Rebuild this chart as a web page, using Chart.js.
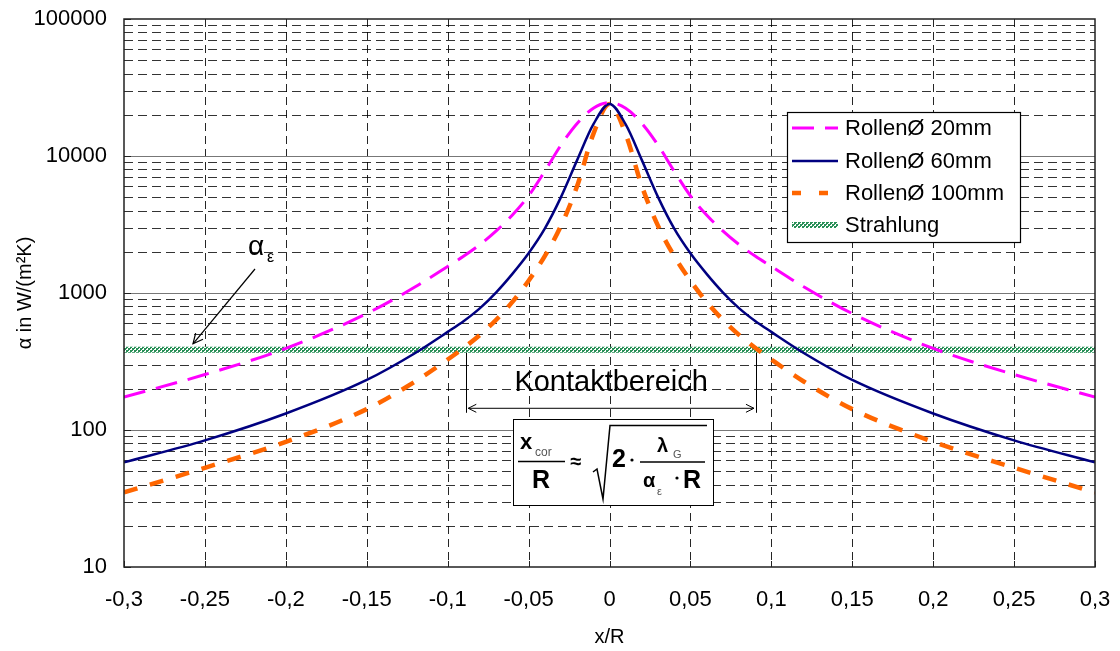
<!DOCTYPE html>
<html>
<head>
<meta charset="utf-8">
<script src="https://cdn.jsdelivr.net/npm/chart.js@4.4.1/dist/chart.umd.min.js"></script>
<style>
html,body{margin:0;padding:0;background:#fff;}
#wrap{width:1120px;height:651px;position:relative;}
</style>
</head>
<body>
<div id="wrap"><canvas id="c" width="1120" height="651"></canvas></div>
<script>
// ---- data ----
const xValues   = [-0.3,-0.25,-0.2,-0.15,-0.12,-0.1,-0.09,-0.08,-0.07,-0.06,-0.05,-0.04,-0.03,-0.02,-0.01,0,0.01,0.02,0.03,0.04,0.05,0.06,0.07,0.08,0.09,0.1,0.12,0.15,0.2,0.25,0.3];
const roll20    = [174,254,394,708,1110,1563,1860,2260,2840,3710,5120,7740,12000,17300,22300,24500,22300,17300,12000,7740,5120,3710,2840,2260,1860,1563,1110,708,394,254,174];
const roll60    = [58,84,132,232,365,520,625,776,1012,1380,1950,2950,5010,9330,17000,24000,17000,9330,5010,2950,1950,1380,1012,776,625,520,365,232,132,84,58];
const roll100   = [35,53,82,142,226,327,398,495,638,861,1230,1860,3090,6030,14450,24000,14450,6030,3090,1860,1230,861,638,495,398,327,226,142,82,53,35];
const strahlungX = [-0.3, 0.3];
const strahlungY = [385, 385];
const xTicks = [-0.3,-0.25,-0.2,-0.15,-0.1,-0.05,0,0.05,0.1,0.15,0.2,0.25,0.3];
const yTicks = [10,100,1000,10000,100000];
const seriesLabels = ['RollenØ 20mm','RollenØ 60mm','RollenØ 100mm','Strahlung'];
const contactX = [-0.0885, 0.0905];

const FONT = 'Liberation Sans, Arial, sans-serif';

// checkered pattern for the radiation line
function makePattern(){
  const c = document.createElement('canvas'); c.width = 4; c.height = 4;
  const g = c.getContext('2d');
  g.fillStyle = '#ffffff'; g.fillRect(0,0,4,4);
  g.fillStyle = '#2a9058';
  g.fillRect(0,0,2,2); g.fillRect(2,2,2,2);
  g.fillRect(2,0,1,1); g.fillRect(0,2,1,1);
  return document.getElementById('c').getContext('2d').createPattern(c,'repeat');
}
const greenPattern = makePattern();

const toXY = (xs, ys) => xs.map((x,i)=>({x:x, y:ys[i]}));

const gridPlugin = {
  id:'gridPlugin',
  beforeDatasetsDraw(chart){
    const {ctx, chartArea:{left,right,top,bottom}, scales:{x,y}} = chart;
    ctx.save();
    ctx.lineWidth = 1;
    ctx.strokeStyle = 'rgba(0,0,0,0.8)';
    ctx.setLineDash([9,5]);
    for (let d=0; d<yTicks.length-1; d++){
      for (let m=2; m<=9; m++){
        const py = Math.round(y.getPixelForValue(yTicks[d]*m))+0.5;
        ctx.beginPath(); ctx.moveTo(left,py); ctx.lineTo(right,py); ctx.stroke();
      }
    }
    ctx.setLineDash([8,5]);
    ctx.strokeStyle = 'rgba(0,0,0,0.85)';
    xTicks.slice(1,-1).forEach(v=>{
      const px = Math.round(x.getPixelForValue(v))+0.5;
      ctx.beginPath(); ctx.moveTo(px,top); ctx.lineTo(px,bottom); ctx.stroke();
    });
    ctx.setLineDash([]);
    ctx.strokeStyle = '#777';
    yTicks.slice(1,-1).forEach(v=>{
      const py = Math.round(y.getPixelForValue(v))+0.5;
      ctx.beginPath(); ctx.moveTo(left,py); ctx.lineTo(right,py); ctx.stroke();
    });
    ctx.restore();
  },
  afterDatasetsDraw(chart){
    const {ctx, chartArea:{left,right,top,bottom}, scales:{x,y}} = chart;
    ctx.save();
    ctx.strokeStyle = '#222'; ctx.lineWidth = 1.5; ctx.setLineDash([]);
    ctx.strokeRect(left, top, right-left, bottom-top);
    ctx.lineWidth = 1;
    yTicks.forEach(v=>{
      const py = Math.round(y.getPixelForValue(v))+0.5;
      ctx.beginPath(); ctx.moveTo(left,py); ctx.lineTo(left+7,py); ctx.stroke();
    });
    xTicks.forEach(v=>{
      const px = Math.round(x.getPixelForValue(v))+0.5;
      ctx.beginPath(); ctx.moveTo(px,bottom); ctx.lineTo(px,bottom-6); ctx.stroke();
    });

    // alpha_eps label with arrow
    ctx.fillStyle = '#000';
    ctx.textBaseline = 'alphabetic'; ctx.textAlign = 'left';
    ctx.font = '28px ' + FONT;
    ctx.fillText('α', 248, 255);
    ctx.font = '16px ' + FONT;
    ctx.fillText('ε', 267, 262);
    const lineY = y.getPixelForValue(strahlungY[0]);
    drawArrow(ctx, 255, 269, 193, lineY-6);

    // Kontaktbereich
    const cx0 = x.getPixelForValue(contactX[0]);
    const cx1 = x.getPixelForValue(contactX[1]);
    const arrowY = lineY + 58;
    ctx.strokeStyle = '#000'; ctx.lineWidth = 1;
    ctx.beginPath();
    ctx.moveTo(Math.round(cx0)+0.5, lineY+3); ctx.lineTo(Math.round(cx0)+0.5, arrowY+5);
    ctx.moveTo(Math.round(cx1)+0.5, lineY+3); ctx.lineTo(Math.round(cx1)+0.5, arrowY+5);
    ctx.stroke();
    ctx.beginPath();
    ctx.moveTo(cx0+2, arrowY+0.5); ctx.lineTo(cx1-2, arrowY+0.5); ctx.stroke();
    ctx.beginPath();
    ctx.moveTo(cx0+10, arrowY-3.5); ctx.lineTo(cx0+2, arrowY+0.5); ctx.lineTo(cx0+10, arrowY+4.5);
    ctx.moveTo(cx1-10, arrowY-3.5); ctx.lineTo(cx1-2, arrowY+0.5); ctx.lineTo(cx1-10, arrowY+4.5);
    ctx.stroke();
    ctx.font = '29px ' + FONT;
    ctx.textAlign = 'center';
    ctx.fillText('Kontaktbereich', (cx0+cx1)/2, lineY+41);

    // formula box
    const bx = 513, by = 419;
    ctx.fillStyle = '#fff';
    ctx.fillRect(bx, by, 200, 86);
    ctx.strokeStyle = '#000'; ctx.lineWidth = 1;
    ctx.strokeRect(bx+0.5, by+0.5, 200, 86);
    ctx.fillStyle = '#000';
    ctx.textAlign = 'left';
    ctx.font = 'bold 22px ' + FONT; ctx.fillText('x', 520, 449);
    ctx.fillStyle = '#555'; ctx.font = '12px ' + FONT; ctx.fillText('cor', 535, 456);
    ctx.fillStyle = '#000';
    ctx.lineWidth = 1.5;
    ctx.beginPath(); ctx.moveTo(518, 461.5); ctx.lineTo(565, 461.5); ctx.stroke();
    ctx.font = 'bold 25px ' + FONT; ctx.textAlign = 'center'; ctx.fillText('R', 541, 488);
    ctx.font = 'bold 20px ' + FONT; ctx.fillText('≈', 576, 468);
    ctx.beginPath();
    ctx.moveTo(593, 472); ctx.lineTo(597, 469); ctx.lineTo(603, 499); ctx.lineTo(610, 425.5); ctx.lineTo(707, 425.5);
    ctx.stroke();
    ctx.textAlign = 'left';
    ctx.font = 'bold 25px ' + FONT; ctx.fillText('2', 612, 467);
    ctx.beginPath(); ctx.arc(632, 460, 1.6, 0, Math.PI*2); ctx.fill();
    ctx.beginPath(); ctx.moveTo(640, 462); ctx.lineTo(705, 462); ctx.stroke();
    ctx.font = 'bold 20px ' + FONT; ctx.fillText('λ', 657, 452);
    ctx.fillStyle = '#555'; ctx.font = '11px ' + FONT; ctx.fillText('G', 673, 458);
    ctx.fillStyle = '#000';
    ctx.font = 'bold 20px ' + FONT; ctx.fillText('α', 643, 487);
    ctx.fillStyle = '#555'; ctx.font = '11px ' + FONT; ctx.fillText('ε', 657, 495);
    ctx.fillStyle = '#000';
    ctx.beginPath(); ctx.arc(677, 478, 1.6, 0, Math.PI*2); ctx.fill();
    ctx.font = 'bold 25px ' + FONT; ctx.fillText('R', 683, 488);

    // legend
    const lx = 787, ly = 112, lw = 233, lh = 130;
    ctx.fillStyle = '#fff'; ctx.fillRect(lx, ly, lw, lh);
    ctx.strokeStyle = '#000'; ctx.lineWidth = 1.2; ctx.setLineDash([]);
    ctx.strokeRect(lx+0.5, ly+0.5, lw, lh);
    const rowsY = [128, 161, 193, 225];
    chart.data.datasets.forEach((ds,i)=>{
      const yy = rowsY[i];
      ctx.save();
      ctx.strokeStyle = ds.borderColor;
      ctx.lineWidth = ds.borderWidth;
      ctx.setLineDash(ds.legendDash || []);
      ctx.beginPath(); ctx.moveTo(792, yy); ctx.lineTo(838, yy); ctx.stroke();
      ctx.restore();
      ctx.fillStyle = '#000';
      ctx.font = '22px ' + FONT;
      ctx.textAlign = 'left'; ctx.textBaseline = 'middle';
      ctx.fillText(ds.label, 845, yy+1);
    });
    ctx.restore();
  }
};

function drawArrow(ctx, x1, y1, x2, y2){
  ctx.save();
  ctx.strokeStyle = '#000'; ctx.lineWidth = 1.2; ctx.setLineDash([]);
  ctx.beginPath(); ctx.moveTo(x1,y1); ctx.lineTo(x2,y2); ctx.stroke();
  const ang = Math.atan2(y2-y1, x2-x1);
  const L = 11, a = 0.45;
  ctx.beginPath();
  ctx.moveTo(x2 - L*Math.cos(ang-a), y2 - L*Math.sin(ang-a));
  ctx.lineTo(x2, y2);
  ctx.lineTo(x2 - L*Math.cos(ang+a), y2 - L*Math.sin(ang+a));
  ctx.stroke();
  ctx.restore();
}

const fmt = v => String(v).replace('.', ',');

new Chart(document.getElementById('c'), {
  type: 'line',
  data: {
    datasets: [
      {label: seriesLabels[0], data: toXY(xValues, roll20), borderColor:'#ff00ff', borderWidth:3, borderDash:[22,11], legendDash:[22,11], pointRadius:0, cubicInterpolationMode:'monotone', fill:false},
      {label: seriesLabels[1], data: toXY(xValues, roll60), borderColor:'#000080', borderWidth:2.5, pointRadius:0, cubicInterpolationMode:'monotone', fill:false},
      {label: seriesLabels[2], data: toXY(xValues, roll100), borderColor:'#ff6600', borderWidth:4.5, borderDash:[14,13], legendDash:[9,18], pointRadius:0, cubicInterpolationMode:'monotone', fill:false},
      {label: seriesLabels[3], data: toXY(strahlungX, strahlungY), borderColor: greenPattern, borderWidth:6, pointRadius:0, fill:false}
    ]
  },
  options: {
    responsive:false, animation:false,
    layout:{padding:{left:0, right:25, top:19, bottom:0}},
    plugins:{legend:{display:false}, tooltip:{enabled:false}},
    scales:{
      x:{
        type:'linear', min:-0.3, max:0.3,
        afterBuildTicks: s => { s.ticks = xTicks.map(v=>({value:v})); },
        afterFit: s => { s.height = 84; },
        ticks:{callback: v => fmt(v), font:{family:FONT, size:22}, color:'#000', padding:0, autoSkip:false, maxRotation:0},
        grid:{display:false, drawTicks:true, tickLength:20},
        border:{display:false},
        title:{display:true, text:'x/R', font:{family:FONT, size:20}, color:'#000', padding:{top:0,bottom:2}}
      },
      y:{
        type:'logarithmic', min:10, max:100000,
        afterBuildTicks: s => { s.ticks = yTicks.map(v=>({value:v})); },
        afterFit: s => { s.width = 124; },
        ticks:{callback: v => String(v), font:{family:FONT, size:22}, color:'#000', padding:0, autoSkip:false},
        grid:{display:false, drawTicks:true, tickLength:17},
        border:{display:false},
        title:{display:true, text:'α in W/(m²K)', font:{family:FONT, size:20}, color:'#000', padding:{top:13,bottom:0}}
      }
    }
  },
  plugins:[gridPlugin]
});
</script>
</body>
</html>
